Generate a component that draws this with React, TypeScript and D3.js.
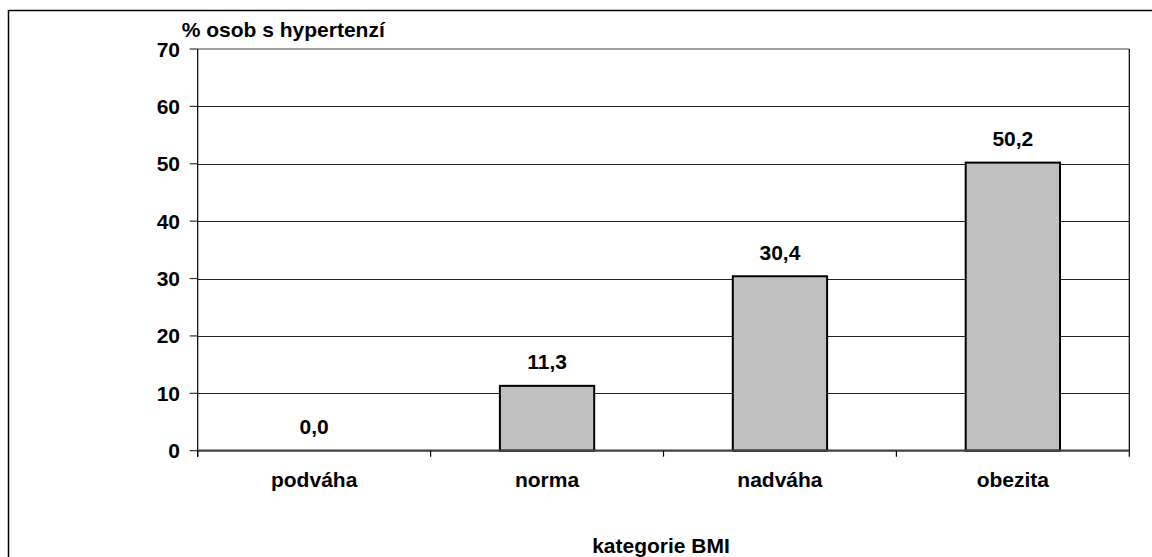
import React from "react";
import * as d3 from "d3";

const categories = ["podváha", "norma", "nadváha", "obezita"];
const values = [0.0, 11.3, 30.4, 50.2];
const yTicks = [0, 10, 20, 30, 40, 50, 60, 70];
const yTitle = "% osob s hypertenzí";
const xTitle = "kategorie BMI";

const W = 1152;
const H = 557;
const left = 197.7;
const right = 1129.3;
const top = 49;
const bottom = 450.7;
const FONT = "'Liberation Sans', Arial, Helvetica, sans-serif";
const FS = 21;

export default function App() {
  const x = d3.scaleBand<string>().domain(categories).range([left, right]).paddingInner(0.595).paddingOuter(0.2975);
  const xb = d3.scaleBand<string>().domain(categories).range([left, right]);
  const y = d3.scaleLinear().domain([0, 70]).range([bottom, top]);
  const fmt = (v: number) => v.toFixed(1).replace(".", ",");

  return (
    <svg width={W} height={H} style={{ position: "absolute", left: 0, top: 0 }} fontFamily={FONT}>
      <rect x={0} y={0} width={W} height={H} fill="#fff" />
      {/* outer frame */}
      <rect x={8.5} y={10.5} width={1200} height={600} fill="none" stroke="#000" strokeWidth={1.5} />
      {/* gridlines */}
      {yTicks.filter((t) => t > 0 && t < 70).map((t) => (
        <line key={t} x1={left} x2={right} y1={Math.round(y(t)) + 0.5} y2={Math.round(y(t)) + 0.5} stroke="#222" strokeWidth={1} />
      ))}
      {/* top border */}
      <line x1={left} x2={right} y1={y(70)} y2={y(70)} stroke="#808080" strokeWidth={1.5} />
      {/* right border */}
      <line x1={right} x2={right} y1={y(70)} y2={bottom + 6} stroke="#000" strokeWidth={1.2} />
      {/* left axis */}
      <line x1={left} x2={left} y1={y(70)} y2={bottom + 6} stroke="#000" strokeWidth={1.2} />
      {yTicks.map((t) => (
        <g key={t}>
          <line x1={left - 8} x2={left} y1={y(t)} y2={y(t)} stroke="#333" strokeWidth={1.2} />
          <text x={180} y={y(t)} dy="0.36em" textAnchor="end" fontSize={FS} fontWeight="bold" fill="#000">
            {t}
          </text>
        </g>
      ))}
      {/* bars */}
      {categories.map((c, i) => (
        <rect
          key={c}
          x={x(c)!}
          y={y(values[i])}
          width={x.bandwidth()}
          height={bottom - y(values[i])}
          fill="#c0c0c0"
          stroke="#000"
          strokeWidth={2}
          visibility={values[i] > 0 ? "visible" : "hidden"}
        />
      ))}
      {/* x axis */}
      <line x1={left} x2={right} y1={bottom} y2={bottom} stroke="#404040" strokeWidth={2.2} />
      {categories.map((c) => (
        <line key={c} x1={xb(c)!} x2={xb(c)!} y1={bottom} y2={bottom + 6} stroke="#000" strokeWidth={1.2} />
      ))}
      {/* value labels */}
      {categories.map((c, i) => (
        <text key={c} x={x(c)! + x.bandwidth() / 2} y={y(values[i]) - 16.5} textAnchor="middle" fontSize={FS} fontWeight="bold" fill="#000">
          {fmt(values[i])}
        </text>
      ))}
      {/* category labels */}
      {categories.map((c) => (
        <text key={c} x={xb(c)! + xb.bandwidth() / 2} y={487} textAnchor="middle" fontSize={FS} fontWeight="bold" fill="#000">
          {c}
        </text>
      ))}
      <text x={181.7} y={36.5} fontSize={FS} fontWeight="bold" fill="#000">
        {yTitle}
      </text>
      <text x={(left + right) / 2 - 2.5} y={553} textAnchor="middle" fontSize={FS} fontWeight="bold" fill="#000">
        {xTitle}
      </text>
    </svg>
  );
}
